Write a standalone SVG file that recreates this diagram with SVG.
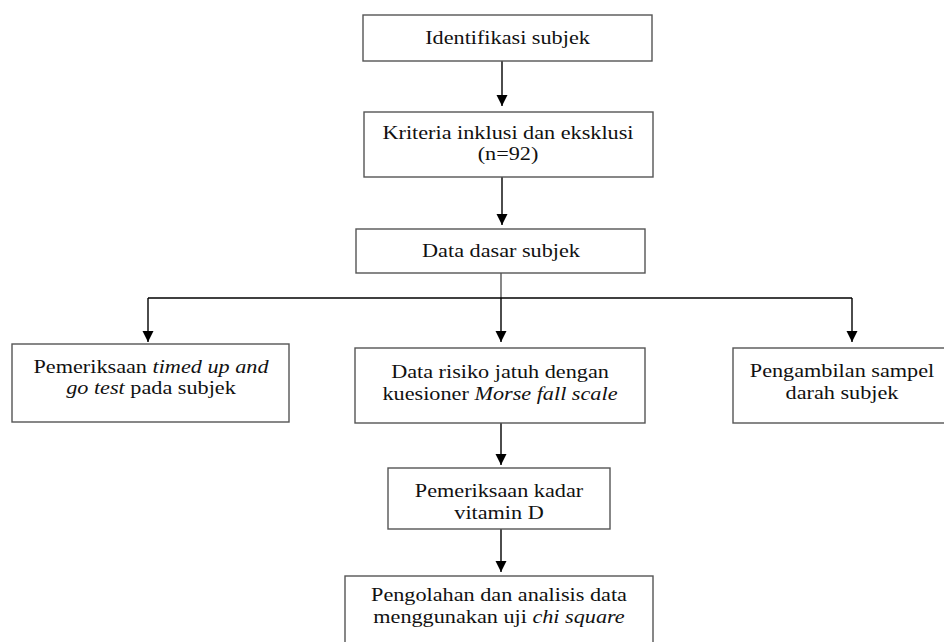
<svg xmlns="http://www.w3.org/2000/svg" width="944" height="642" viewBox="0 0 944 642">
  <defs>
    <marker id="arr" viewBox="0 0 10 10" refX="10" refY="5" markerWidth="11" markerHeight="13" markerUnits="userSpaceOnUse" orient="auto">
      <path d="M0,0 L10,5 L0,10 z" fill="#000"/>
    </marker>
    <style>
      .box { fill: #fff; stroke: #555; stroke-width: 1.4; }
      .t { font-family: "Liberation Serif", "Times New Roman", serif; font-size: 19px; fill: #111; text-anchor: middle; }
      .i { font-style: italic; }
      .c { fill: none; stroke: #000; stroke-width: 1.4; }
      .g { fill: none; stroke: #555; stroke-width: 1.4; }
    </style>
  </defs>
  <rect width="944" height="642" fill="#fff"/>

  <g id="connectors">
    <line class="c" x1="502" y1="61" x2="502" y2="106" marker-end="url(#arr)"/>
    <line class="c" x1="502" y1="177" x2="502" y2="225" marker-end="url(#arr)"/>
    <line class="g" x1="501" y1="273" x2="501" y2="298"/>
    <polyline class="c" points="148,298 852,298"/>
    <line class="c" x1="148" y1="298" x2="148" y2="342" marker-end="url(#arr)"/>
    <line class="c" x1="501" y1="298" x2="501" y2="342" marker-end="url(#arr)"/>
    <line class="c" x1="852" y1="298" x2="852" y2="342" marker-end="url(#arr)"/>
    <line class="c" x1="501" y1="423" x2="501" y2="465" marker-end="url(#arr)"/>
    <line class="c" x1="501" y1="529" x2="501" y2="572" marker-end="url(#arr)"/>
  </g>

  <g id="n1">
    <rect class="box" x="363" y="15" width="289" height="46"/>
    <text class="t" transform="translate(507.5,44) scale(1.17,1)" x="0" y="0">Identifikasi subjek</text>
  </g>

  <g id="n2">
    <rect class="box" x="364" y="112" width="289" height="65"/>
    <text class="t" transform="translate(508,139) scale(1.17,1)" x="0" y="0">Kriteria inklusi dan eksklusi<tspan x="0" dy="21">(n=92)</tspan></text>
  </g>

  <g id="n3">
    <rect class="box" x="356" y="229" width="289" height="44"/>
    <text class="t" transform="translate(501,257) scale(1.17,1)" x="0" y="0">Data dasar subjek</text>
  </g>

  <g id="n4">
    <rect class="box" x="12" y="344" width="277" height="78"/>
    <text class="t" transform="translate(151,373) scale(1.17,1)" x="0" y="0">Pemeriksaan <tspan class="i">timed up and</tspan><tspan x="0" dy="21"><tspan class="i">go test</tspan> pada subjek</tspan></text>
  </g>

  <g id="n5">
    <rect class="box" x="355" y="348" width="290" height="75"/>
    <text class="t" transform="translate(500,378) scale(1.17,1)" x="0" y="0">Data risiko jatuh dengan<tspan x="0" dy="22">kuesioner <tspan class="i">Morse fall scale</tspan></tspan></text>
  </g>

  <g id="n6">
    <rect class="box" x="733" y="348" width="216" height="75"/>
    <text class="t" transform="translate(842,377) scale(1.17,1)" x="0" y="0">Pengambilan sampel<tspan x="0" dy="22">darah subjek</tspan></text>
  </g>

  <g id="n7">
    <rect class="box" x="388" y="468" width="222" height="61"/>
    <text class="t" transform="translate(499,497) scale(1.17,1)" x="0" y="0">Pemeriksaan kadar<tspan x="0" dy="22">vitamin D</tspan></text>
  </g>

  <g id="n8">
    <rect class="box" x="345" y="576" width="308" height="80"/>
    <text class="t" transform="translate(499,601) scale(1.17,1)" x="0" y="0">Pengolahan dan analisis data<tspan x="0" dy="22">menggunakan uji <tspan class="i">chi square</tspan></tspan></text>
  </g>
</svg>
